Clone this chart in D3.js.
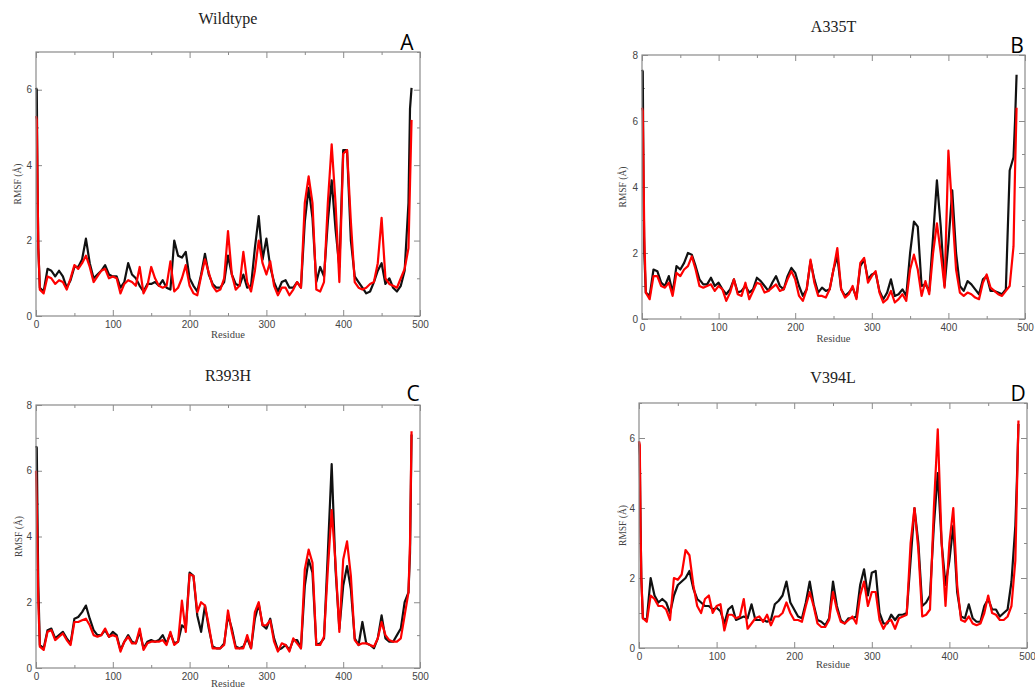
<!DOCTYPE html>
<html>
<head>
<meta charset="utf-8">
<script src="https://cdn.jsdelivr.net/npm/d3@7"></script>
<style>
  html, body { margin: 0; padding: 0; background: #fff; }
  svg { display: block; }
</style>
</head>
<body>
<svg id="chart"></svg>
<script>
const residues = [0, 1, 2, 3, ...d3.range(5, 486, 5), 487, 489];

// RMSF (Å) values, black = first run, red = second run
const wtBlack = [6.05, 6.0, 3.5, 1.8,
  0.75, 0.65, 1.25, 1.2, 1.05, 1.2, 1.05, 0.75, 0.95, 1.3,
  1.3, 1.5, 2.05, 1.4, 1.0, 1.1, 1.2, 1.35, 1.1, 1.05,
  1.05, 0.75, 0.9, 1.4, 1.1, 1.0, 0.8, 0.65, 0.85, 0.85,
  0.9, 0.8, 0.95, 0.75, 0.7, 2.0, 1.6, 1.55, 1.7, 1.0,
  0.8, 0.65, 1.1, 1.65, 1.1, 0.85, 0.75, 0.75, 0.9, 1.6,
  1.1, 0.85, 0.8, 1.1, 0.75, 0.8, 1.8, 2.65, 1.5, 2.05,
  1.3, 0.9, 0.65, 0.9, 0.95, 0.75, 0.75, 0.9, 0.75, 2.5,
  3.4, 2.6, 0.9, 1.3, 1.05, 2.5, 3.6, 2.3, 1.3, 4.4,
  4.4, 2.0, 1.05, 0.9, 0.75, 0.6, 0.65, 0.9, 1.2, 1.4,
  0.85, 1.0, 0.75, 0.65, 0.8, 1.2, 3.0,
  5.5, 6.05];
const wtRed = [5.3, 5.2, 3.5, 1.8,
  0.7, 0.6, 1.05, 1.0, 0.85, 0.95, 0.9, 0.7, 1.0, 1.35,
  1.25, 1.4, 1.6, 1.3, 0.9, 1.05, 1.2, 1.25, 1.0, 1.05,
  1.0, 0.6, 0.85, 0.95, 0.9, 0.8, 1.3, 0.6, 0.8, 1.3,
  1.0, 0.8, 0.75, 0.8, 1.45, 0.65, 0.75, 1.0, 1.35, 0.8,
  0.6, 0.55, 1.05, 1.5, 1.15, 0.8, 0.65, 0.7, 1.0, 2.25,
  1.1, 0.7, 0.8, 1.7, 0.9, 0.65, 1.2, 2.0, 1.4, 1.1,
  1.45, 0.8, 0.55, 0.75, 0.75, 0.55, 0.7, 0.9, 0.75, 3.0,
  3.7, 3.0, 0.7, 0.65, 0.9, 3.0, 4.55, 3.0, 0.9, 4.3,
  4.4, 2.5, 0.9, 0.75, 0.7, 0.75, 0.85, 0.9, 1.4, 2.6,
  1.0, 0.85, 0.8, 0.75, 1.0, 1.25, 1.8,
  3.5, 5.2];

const a335tBlack = [7.55, 7.5, 4.0, 2.0,
  0.8, 0.7, 1.5, 1.45, 1.1, 1.0, 1.3, 0.8, 1.6, 1.5,
  1.7, 2.0, 1.95, 1.6, 1.2, 1.05, 1.05, 1.25, 1.0, 1.1,
  0.9, 0.75, 0.9, 1.2, 0.8, 0.85, 1.0, 0.8, 0.9, 1.25,
  1.15, 1.0, 0.85, 1.1, 1.3, 1.0, 0.9, 1.3, 1.55, 1.4,
  1.0, 0.7, 0.9, 1.75, 1.2, 0.8, 0.95, 0.85, 0.9, 1.5,
  1.9, 0.9, 0.7, 0.8, 0.95, 0.65, 1.6, 1.8, 1.2, 1.35,
  1.4, 0.85, 0.6, 0.8, 1.2, 0.7, 0.75, 0.9, 0.7, 2.0,
  2.95, 2.8, 1.0, 1.05, 0.85, 2.5, 4.2, 2.8, 1.0, 2.3,
  3.9, 2.0, 1.0, 0.85, 1.15, 1.05, 0.9, 0.75, 1.2, 1.3,
  0.85, 0.85, 0.8, 0.75, 0.9, 4.5, 4.9,
  6.0, 7.4];
const a335tRed = [6.4, 6.3, 4.5, 2.5,
  0.8, 0.6, 1.3, 1.3, 1.0, 0.95, 1.1, 0.7, 1.4, 1.3,
  1.5, 1.6, 1.9, 1.5, 1.0, 0.95, 1.0, 1.05, 0.85, 1.0,
  0.9, 0.55, 0.8, 1.2, 0.75, 0.7, 1.1, 0.6, 0.85, 1.1,
  1.05, 0.8, 0.85, 0.95, 1.05, 0.85, 0.9, 1.2, 1.45, 1.2,
  0.7, 0.55, 0.9, 1.8, 1.1, 0.7, 0.7, 0.65, 0.9, 1.5,
  2.15, 0.9, 0.65, 0.75, 1.0, 0.6, 1.7, 1.85, 1.1, 1.3,
  1.45, 0.8, 0.5, 0.6, 0.85, 0.5, 0.6, 0.75, 0.55, 1.5,
  1.95, 1.5, 0.7, 1.15, 0.75, 2.0, 2.9, 2.0, 0.95, 5.1,
  3.3, 1.5, 0.8, 0.7, 0.8, 0.75, 0.65, 0.6, 1.1, 1.35,
  0.95, 0.85, 0.75, 0.7, 0.85, 1.0, 2.2,
  4.5, 6.4];

const r393hBlack = [6.75, 6.7, 4.5, 2.5,
  0.7, 0.6, 1.15, 1.2, 0.9, 1.0, 1.1, 0.9, 0.75, 1.5,
  1.55, 1.7, 1.9, 1.5, 1.15, 1.0, 1.0, 1.15, 0.95, 1.1,
  1.0, 0.55, 0.8, 1.0, 0.8, 0.75, 1.1, 0.6, 0.8, 0.85,
  0.8, 0.85, 1.0, 0.75, 1.05, 0.75, 0.8, 1.3, 1.2, 2.9,
  2.8, 1.6, 1.1, 1.9, 1.2, 0.65, 0.6, 0.6, 0.75, 1.6,
  1.2, 0.65, 0.6, 0.65, 0.9, 0.6, 1.5, 1.95, 1.3, 1.2,
  1.5, 0.9, 0.55, 0.6, 0.7, 0.55, 0.85, 0.85, 0.6, 2.5,
  3.3, 2.9, 0.7, 0.75, 0.9, 3.5, 6.2, 3.0, 1.2, 2.5,
  3.1, 2.4, 0.9, 0.7, 1.4, 0.75, 0.7, 0.6, 0.9, 1.6,
  0.9, 0.8, 0.8, 1.0, 1.2, 2.0, 2.3,
  3.5, 7.1];
const r393hRed = [6.0, 5.0, 3.5, 2.0,
  0.65, 0.55, 1.1, 1.15, 0.85, 0.95, 1.05, 0.85, 0.7, 1.4,
  1.4, 1.45, 1.5, 1.3, 1.0, 0.95, 1.0, 1.2, 0.95, 1.0,
  0.95, 0.5, 0.8, 0.95, 0.75, 0.75, 1.2, 0.55, 0.75, 0.8,
  0.8, 0.8, 0.85, 0.7, 1.1, 0.7, 0.8, 2.05, 1.1, 2.85,
  2.8, 1.7, 2.0, 1.9, 1.3, 0.6, 0.6, 0.6, 0.7, 1.75,
  1.1, 0.6, 0.6, 0.6, 1.0, 0.6, 1.7, 2.0, 1.3, 1.3,
  1.45, 0.8, 0.5, 0.75, 0.7, 0.5, 0.9, 0.75, 0.6, 3.0,
  3.6, 3.2, 0.7, 0.7, 0.95, 3.0, 4.8, 3.2, 1.1, 3.3,
  3.85, 2.8, 0.85, 0.7, 0.75, 0.75, 0.7, 0.65, 0.9, 1.4,
  1.0, 0.85, 0.8, 0.8, 0.9, 1.6, 2.3,
  3.8, 7.2];

const v394lBlack = [5.9, 5.5, 3.5, 2.0,
  0.85, 0.8, 2.0, 1.5, 1.3, 1.4, 1.3, 1.0, 1.5, 1.8,
  1.9, 2.0, 2.2, 1.7, 1.4, 1.3, 1.2, 1.2, 1.1, 1.15,
  1.05, 0.7, 1.1, 1.2, 0.8, 0.85, 0.9, 0.85, 1.25, 0.8,
  0.8, 0.8, 0.75, 0.8, 1.25, 1.35, 1.5, 1.9, 1.3, 1.1,
  0.9, 0.85, 1.3, 1.9, 1.25, 0.8, 0.75, 0.65, 0.85, 1.9,
  1.2, 0.8, 0.7, 0.85, 0.85, 0.9, 1.8, 2.25, 1.5, 2.15,
  2.2, 1.0, 0.7, 0.7, 0.95, 0.8, 0.95, 0.95, 1.0, 2.5,
  4.0, 3.0, 1.2, 1.3, 1.5, 3.5, 5.0, 3.0, 1.8, 2.5,
  3.5, 1.6, 0.9, 0.85, 1.25, 0.85, 0.75, 0.75, 1.2, 1.4,
  1.1, 1.1, 0.9, 1.0, 1.1, 1.9, 3.5,
  4.8, 6.4];
const v394lRed = [5.9, 5.8, 3.5, 2.0,
  0.85, 0.75, 1.5, 1.4, 1.2, 1.2, 1.1, 0.8, 2.0, 1.95,
  2.1, 2.8, 2.65, 1.8, 1.2, 1.0, 1.4, 1.5, 1.0, 1.2,
  1.25, 0.5, 0.95, 0.95, 0.85, 0.9, 1.4, 0.55, 0.7, 0.85,
  0.9, 0.75, 0.95, 0.65, 0.9, 0.9, 1.0, 1.3, 1.0, 0.8,
  0.8, 0.75, 1.2, 1.6, 1.2, 0.7, 0.6, 0.6, 0.8, 1.6,
  1.1, 0.75, 0.7, 0.8, 0.9, 0.7, 1.5, 1.9, 1.2, 1.6,
  1.6, 0.8, 0.55, 0.75, 0.8, 0.55, 0.85, 0.9, 0.95, 3.0,
  4.0, 2.8, 0.9, 0.95, 1.1, 4.0, 6.25, 3.0, 1.2, 3.0,
  4.0, 1.8, 0.8, 0.75, 0.9, 0.7, 0.65, 0.7, 1.0, 1.5,
  1.0, 0.95, 0.8, 0.8, 0.9, 1.2, 2.5,
  4.5, 6.5];

const xMajor = [0, 100, 200, 300, 400, 500];
const xMinor = [50, 150, 250, 350, 450];

const width = 1035, height = 689;
const svg = d3.select("#chart")
  .attr("width", width)
  .attr("height", height)
  .attr("viewBox", [0, 0, width, height]);

const serif = "'Liberation Serif', 'Times New Roman', serif";
const sans = "'Liberation Sans', Arial, sans-serif";
const frameColor = "#8a8a8a";

const panels = [
  {title: "Wildtype", letter: "A", black: wtBlack, red: wtRed, ymax: 7,
   left: 36, top: 52, right: 420, bottom: 316,
   titleY: 24, letterX: 407, letterY: 50, xLabelY: 338, yLabelX: 18},
  {title: "A335T", letter: "B", black: a335tBlack, red: a335tRed, ymax: 8,
   left: 642, top: 55, right: 1025, bottom: 319,
   titleY: 32, letterX: 1017, letterY: 53, xLabelY: 342, yLabelX: 623},
  {title: "R393H", letter: "C", black: r393hBlack, red: r393hRed, ymax: 8,
   left: 36, top: 405, right: 420, bottom: 668,
   titleY: 381, letterX: 413, letterY: 401, xLabelY: 687, yLabelX: 19},
  {title: "V394L", letter: "D", black: v394lBlack, red: v394lRed, ymax: 7,
   left: 639, top: 403, right: 1027, bottom: 648,
   titleY: 383, letterX: 1018, letterY: 401, xLabelY: 668, yLabelX: 623}
];

function styleAxis(g) {
  g.select(".domain").remove();
  g.selectAll(".tick line").attr("stroke", frameColor).attr("stroke-width", 1);
  g.selectAll(".tick text")
    .attr("fill", "#444")
    .attr("font-family", sans)
    .attr("font-size", 10);
}

panels.forEach(p => {
  const x = d3.scaleLinear().domain([0, 500]).range([p.left, p.right]);
  const y = d3.scaleLinear().domain([0, p.ymax]).range([p.bottom, p.top]);
  const yMajor = d3.range(0, p.ymax + 0.01, 2);
  const yMinor = d3.range(1, p.ymax + 0.01, 2);
  const g = svg.append("g");

  // inward ticks on all four sides, xmgrace style
  g.append("g").attr("transform", `translate(0,${p.bottom})`)
    .call(d3.axisBottom(x).tickValues(xMajor).tickSize(-6).tickPadding(5).tickFormat(d3.format("d")))
    .call(styleAxis);
  g.append("g").attr("transform", `translate(0,${p.bottom})`)
    .call(d3.axisBottom(x).tickValues(xMinor).tickSize(-3).tickFormat(""))
    .call(styleAxis);
  g.append("g").attr("transform", `translate(0,${p.top})`)
    .call(d3.axisTop(x).tickValues(xMajor).tickSize(-6).tickFormat(""))
    .call(styleAxis);
  g.append("g").attr("transform", `translate(0,${p.top})`)
    .call(d3.axisTop(x).tickValues(xMinor).tickSize(-3).tickFormat(""))
    .call(styleAxis);
  g.append("g").attr("transform", `translate(${p.left},0)`)
    .call(d3.axisLeft(y).tickValues(yMajor).tickSize(-6).tickPadding(4).tickFormat(d3.format("d")))
    .call(styleAxis);
  g.append("g").attr("transform", `translate(${p.left},0)`)
    .call(d3.axisLeft(y).tickValues(yMinor).tickSize(-3).tickFormat(""))
    .call(styleAxis);
  g.append("g").attr("transform", `translate(${p.right},0)`)
    .call(d3.axisRight(y).tickValues(yMajor).tickSize(-6).tickFormat(""))
    .call(styleAxis);
  g.append("g").attr("transform", `translate(${p.right},0)`)
    .call(d3.axisRight(y).tickValues(yMinor).tickSize(-3).tickFormat(""))
    .call(styleAxis);

  const line = d3.line()
    .x((d, i) => x(residues[i]))
    .y(d => y(d));

  g.append("path")
    .attr("fill", "none")
    .attr("stroke", "#111")
    .attr("stroke-width", 2.2)
    .attr("stroke-linejoin", "round")
    .attr("d", line(p.black));
  g.append("path")
    .attr("fill", "none")
    .attr("stroke", "#f00")
    .attr("stroke-width", 2.2)
    .attr("stroke-linejoin", "round")
    .attr("d", line(p.red));

  g.append("rect")
    .attr("x", p.left).attr("y", p.top)
    .attr("width", p.right - p.left).attr("height", p.bottom - p.top)
    .attr("fill", "none")
    .attr("stroke", frameColor)
    .attr("stroke-width", 1.2);

  g.append("text")
    .attr("x", (p.left + p.right) / 2)
    .attr("y", p.titleY)
    .attr("text-anchor", "middle")
    .attr("font-family", serif)
    .attr("font-size", 16)
    .attr("fill", "#222")
    .text(p.title);

  g.append("text")
    .attr("x", p.letterX)
    .attr("y", p.letterY)
    .attr("text-anchor", "middle")
    .attr("font-family", "'Open Sans', 'DejaVu Sans', sans-serif")
    .attr("font-size", 21)
    .attr("fill", "#000")
    .text(p.letter);

  g.append("text")
    .attr("x", (p.left + p.right) / 2)
    .attr("y", p.xLabelY)
    .attr("text-anchor", "middle")
    .attr("font-family", serif)
    .attr("font-size", 10.5)
    .attr("fill", "#444")
    .text("Residue");

  g.append("text")
    .attr("transform", `translate(${p.yLabelX},${(p.top + p.bottom) / 2}) rotate(-90)`)
    .attr("text-anchor", "middle")
    .attr("dy", "0.35em")
    .attr("font-family", serif)
    .attr("font-size", 9.5)
    .attr("fill", "#444")
    .text("RMSF (Å)");
});
</script>
</body>
</html>
